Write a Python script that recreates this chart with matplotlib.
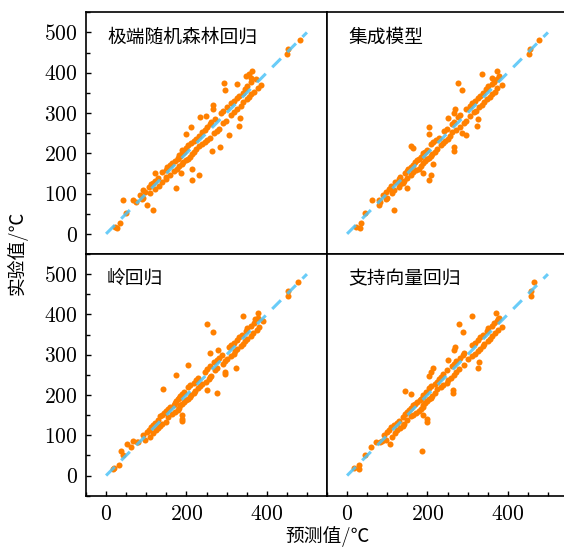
import matplotlib
matplotlib.use('Agg')
import matplotlib.pyplot as plt
from matplotlib.ticker import MultipleLocator

plt.rcParams['font.family'] = ['cmr10', 'Noto Sans CJK SC']
plt.rcParams['axes.formatter.use_mathtext'] = True

# 实验值 (shared by all four models)
exp = [15, 18, 27, 51, 60, 72, 79, 83, 84, 86,
       88, 96, 101, 105, 108, 112, 114, 117, 120, 123,
       126, 129, 131, 134, 136, 139, 141, 145, 147, 150,
       151, 153, 156, 158, 161, 162, 165, 168, 171, 174,
       176, 178, 180, 183, 185, 187, 189, 191, 193, 196,
       198, 200, 202, 204, 206, 208, 210, 213, 215, 217,
       220, 222, 225, 228, 230, 233, 236, 239, 242, 245,
       248, 250, 253, 256, 258, 261, 264, 266, 268, 272,
       275, 278, 281, 284, 287, 289, 292, 296, 299, 302,
       305, 309, 311, 314, 318, 321, 324, 327, 330, 334,
       337, 340, 343, 346, 350, 353, 357, 359, 362, 366,
       369, 372, 375, 378, 384, 388, 392, 397, 404, 446,
       458, 480]

# 预测值 for each model
pred_etr = [28, 22, 35, 50, 118, 101, 75, 68, 42, 90,
            93, 85, 110, 98, 92, 122, 174, 108, 132, 112,
            118, 140, 122, 215, 150, 128, 148, 231, 160, 122,
            187, 140, 168, 148, 214, 176, 152, 182, 160, 188,
            165, 192, 172, 200, 178, 205, 180, 210, 185, 182,
            215, 188, 220, 195, 264, 190, 225, 200, 283, 232,
            205, 238, 212, 245, 218, 250, 225, 258, 232, 307,
            198, 268, 240, 275, 245, 280, 212, 250, 331, 258,
            290, 262, 298, 270, 334, 233, 248, 310, 285, 318,
            290, 325, 267, 300, 335, 267, 310, 342, 318, 350,
            325, 355, 330, 362, 340, 368, 297, 345, 378, 352,
            385, 325, 294, 362, 372, 360, 348, 356, 364, 450,
            452, 482]

pred_ens = [31, 21, 35, 44, 117, 79, 82, 79, 61, 96,
            100, 90, 112, 98, 118, 104, 148, 128, 110, 132,
            138, 120, 142, 203, 128, 150, 132, 208, 158, 188,
            145, 165, 148, 172, 152, 178, 158, 185, 165, 213,
            188, 170, 195, 175, 200, 180, 205, 185, 210, 188,
            212, 190, 218, 195, 266, 198, 225, 163, 266, 158,
            235, 210, 240, 215, 245, 222, 250, 228, 256, 297,
            204, 287, 262, 242, 270, 248, 204, 280, 324, 260,
            290, 265, 295, 325, 250, 275, 305, 282, 266, 315,
            320, 295, 268, 328, 305, 335, 312, 340, 318, 348,
            325, 355, 330, 362, 338, 368, 285, 345, 372, 350,
            385, 360, 275, 365, 372, 362, 378, 336, 373, 454,
            456, 477]

pred_ridge = [18, 20, 31, 41, 36, 62, 53, 80, 76, 66,
              96, 110, 92, 118, 102, 125, 108, 130, 112, 135,
              118, 140, 122, 148, 190, 128, 190, 155, 135, 188,
              140, 165, 145, 172, 150, 178, 155, 182, 160, 185,
              168, 190, 172, 195, 175, 198, 180, 205, 182, 210,
              185, 212, 190, 218, 276, 195, 222, 250, 142, 228,
              205, 235, 210, 240, 218, 248, 225, 255, 230, 258,
              262, 174, 296, 296, 245, 270, 250, 275, 323, 258,
              203, 290, 268, 295, 275, 300, 280, 310, 288, 318,
              258, 322, 279, 325, 305, 335, 310, 340, 318, 345,
              325, 352, 330, 360, 338, 365, 266, 348, 375, 352,
              380, 360, 250, 368, 390, 370, 378, 340, 379, 453,
              453, 478]

pred_svr = [29, 18, 29, 44, 187, 60, 106, 83, 72, 88,
            98, 112, 92, 120, 100, 125, 105, 132, 110, 138,
            118, 142, 125, 200, 130, 150, 200, 138, 158, 189,
            165, 145, 172, 150, 178, 155, 185, 160, 190, 165,
            190, 170, 195, 175, 200, 182, 205, 185, 210, 188,
            212, 190, 158, 263, 220, 196, 143, 263, 225, 205,
            235, 210, 240, 218, 248, 225, 252, 230, 258, 235,
            203, 265, 240, 270, 208, 248, 278, 214, 325, 260,
            290, 265, 329, 272, 250, 300, 280, 310, 288, 318,
            290, 325, 267, 330, 268, 338, 312, 342, 318, 350,
            325, 355, 330, 362, 338, 368, 288, 348, 375, 352,
            385, 360, 278, 365, 372, 375, 378, 312, 371, 458,
            458, 465]

titles = ['极端随机森林回归', '集成模型', '岭回归', '支持向量回归']
preds = [pred_etr, pred_ens, pred_ridge, pred_svr]
diag = [0, 500]

fig, axes = plt.subplots(2, 2, figsize=(5.64, 5.51), dpi=100, sharex=True, sharey=True)
fig.subplots_adjust(left=0.1525, right=1.0071, bottom=0.1004, top=0.9777, wspace=0, hspace=0)

for i, ax in enumerate(axes.flat):
    ax.scatter(preds[i], exp, s=19, color='#FF8000', linewidths=0, zorder=2)
    ax.plot(diag, diag, color='#4FC3F7', lw=2.2, alpha=0.85, dashes=(4, 3), zorder=3)
    ax.text(0.087, 0.896, titles[i], transform=ax.transAxes, fontsize=13.5, va='center', ha='left')
    ax.set_xlim(-50, 550)
    ax.set_ylim(-50, 550)
    ax.xaxis.set_major_locator(MultipleLocator(200))
    ax.xaxis.set_minor_locator(MultipleLocator(50))
    ax.yaxis.set_major_locator(MultipleLocator(100))
    ax.yaxis.set_minor_locator(MultipleLocator(50))
    ax.tick_params(which='both', direction='in', labelsize=15.5, width=1.0)
    ax.tick_params(which='major', length=3.5, pad=6)
    ax.tick_params(which='minor', length=3)
    for sp in ax.spines.values():
        sp.set_linewidth(1.2)
    if i % 2 == 1:
        ax.tick_params(which='both', left=False)
    if i < 2:
        ax.tick_params(which='both', bottom=False)

fig.text(0.58, 0.008, '预测值/℃', fontsize=13.5, ha='center', va='bottom')
fig.text(0.03, 0.541, '实验值/℃', fontsize=13.5, ha='center', va='center', rotation=90)

fig.savefig('out.png', dpi=100)
